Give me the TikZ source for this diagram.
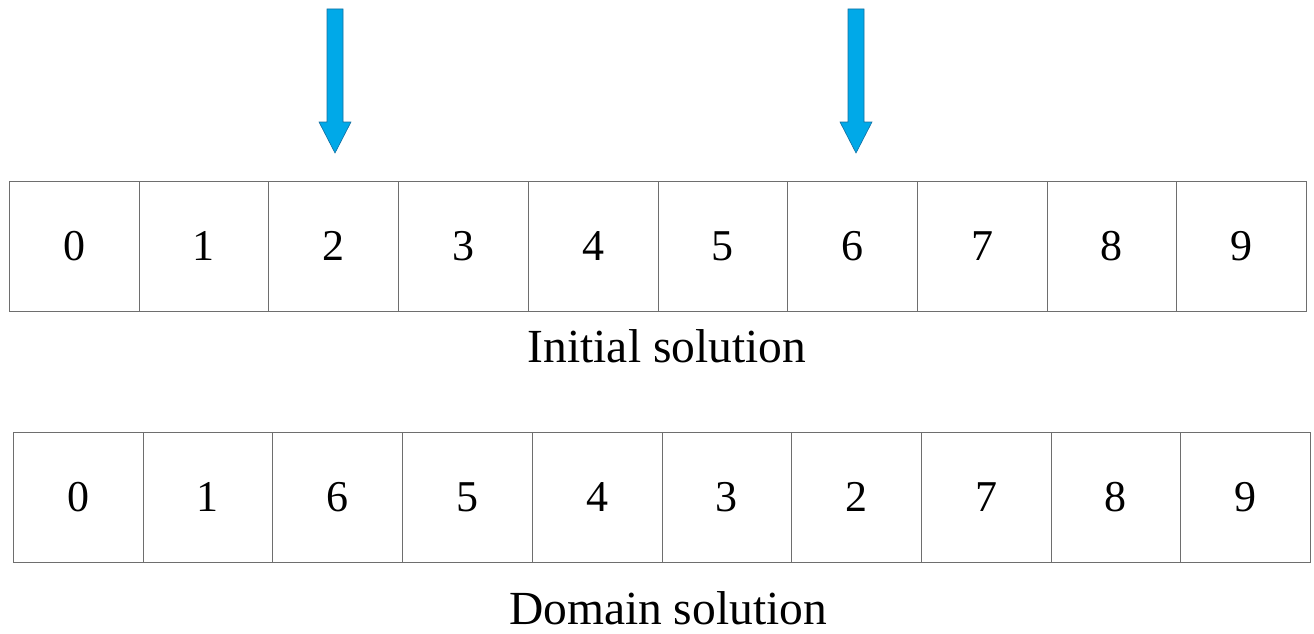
\documentclass[tikz,border=0pt]{standalone}
\usepackage{fontspec}
\setmainfont{Liberation Serif}
\definecolor{pointerfill}{RGB}{0,169,232}
\definecolor{pointerline}{RGB}{20,110,160}
\definecolor{gridline}{RGB}{110,110,110}
\begin{document}
\begin{tikzpicture}[x=1pt,y=-1pt,
  cell/.style={draw=gridline, line width=0.8pt, minimum width=129.7pt,
    minimum height=130pt, inner sep=0pt, anchor=north west,
    font=\fontsize{44}{52}\selectfont},
  caption/.style={anchor=base, inner sep=0pt, font=\fontsize{47.5}{56}\selectfont},
  pointer/.style={fill=pointerfill, draw=pointerline, line width=0.6pt, line join=miter}]
\useasboundingbox (0,0) rectangle (1314,634);

% initial ordering
\foreach \v [count=\i from 0] in {0,1,2,3,4,5,6,7,8,9}
  \node[cell] (t\i) at (9+129.7*\i,181) {\v};
\node[caption] (initcap) at (667,362) {Initial solution};

% reversed segment between positions 2 and 6
\foreach \v [count=\i from 0] in {0,1,6,5,4,3,2,7,8,9}
  \node[cell] (b\i) at (13+129.7*\i,432) {\v};
\node[caption] (domcap) at (668,624) {Domain solution};

% cut points
\filldraw[pointer] (327,9) -- (343,9) -- (343,122) -- (351,122) -- (335,153)
  -- (319,122) -- (327,122) -- cycle;
\filldraw[pointer] (848,9) -- (864,9) -- (864,122) -- (872,122) -- (856,153)
  -- (840,122) -- (848,122) -- cycle;
\end{tikzpicture}
\end{document}
